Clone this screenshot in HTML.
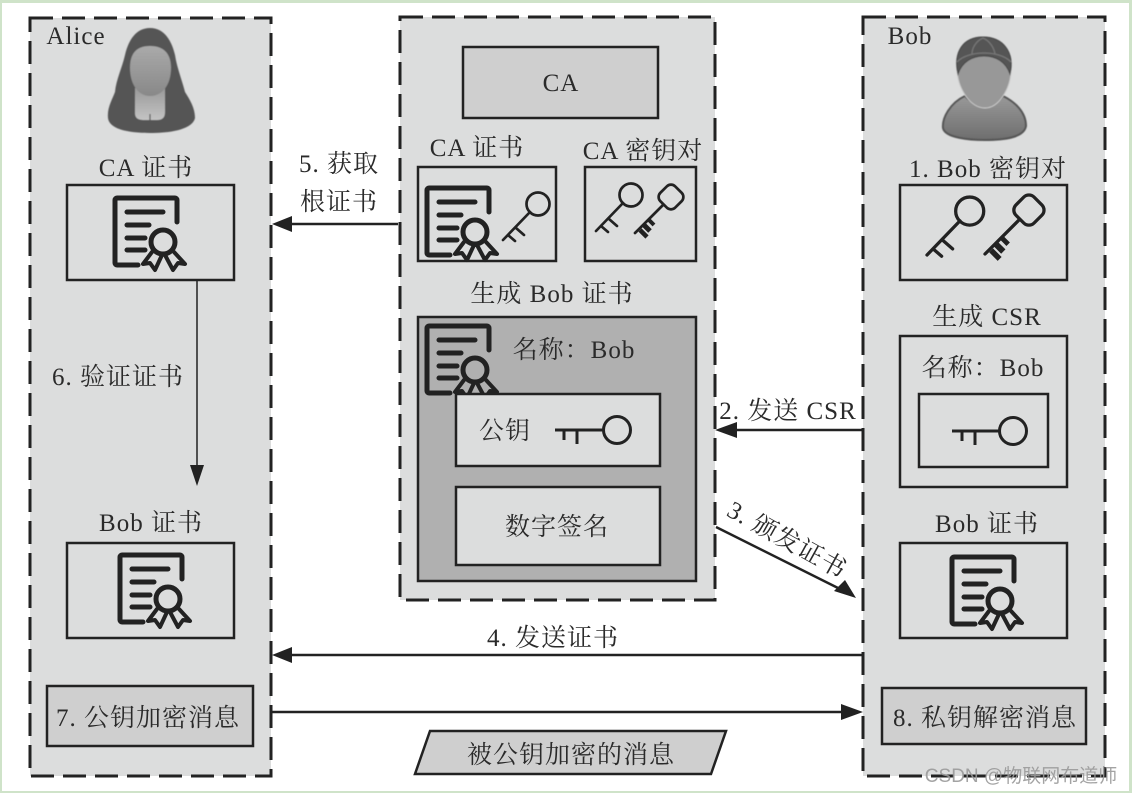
<!DOCTYPE html>
<html lang="zh"><head><meta charset="utf-8">
<style>
html,body{margin:0;padding:0;background:#fff;width:1132px;height:793px;overflow:hidden}
svg{display:block}
text{font-family:"Liberation Serif","Noto Serif CJK SC",serif;fill:#2a2a2a;font-size:25px;letter-spacing:1px;text-anchor:middle}
</style></head>
<body>
<svg width="1132" height="793" viewBox="0 0 1132 793" xmlns="http://www.w3.org/2000/svg">
<defs>
<g id="cert" fill="none" stroke="#222" stroke-linecap="round" stroke-linejoin="round">
  <path d="M63 25V3a2 2 0 0 0-2-2H3a2 2 0 0 0-2 2V66a2 2 0 0 0 2 2H24" stroke-width="5"/>
  <path d="M13 15H49M13 28H35M13 41H31M13 53H31" stroke-width="5"/>
  <circle cx="49" cy="45" r="12" stroke-width="5"/>
  <path d="M38 55L29 67L36 66L41 73L48 58M60 55L71 67L64 66L59 73L51 58" stroke-width="4"/>
</g>
<g id="key1" fill="none" stroke="#222" stroke-width="2.7" stroke-linecap="round">
  <circle cx="35" cy="-36" r="11.5"/>
  <path d="M27 -28L0 0M5 -5L12 1M13 -12L21 -5"/>
</g>
<g id="key2" fill="none" stroke="#222" stroke-width="2.7" stroke-linecap="round" stroke-linejoin="round">
  <rect x="-10.5" y="-10.5" width="21" height="21" rx="6" transform="translate(36,-36) rotate(45)"/>
  <path d="M28 -28L0 0"/>
  <path d="M5 -3L12 4" stroke-width="4.5" stroke-linecap="butt"/>
  <path d="M9 -8L15 -2" stroke-width="5" stroke-linecap="butt"/>
  <path d="M14 -13L19 -8" stroke-width="4" stroke-linecap="butt"/>
</g>
<linearGradient id="face" x1="0" y1="0" x2="0" y2="1"><stop offset="0" stop-color="#aaa"/><stop offset="1" stop-color="#888"/></linearGradient>
<linearGradient id="skin" x1="0" y1="0" x2="0" y2="1"><stop offset="0" stop-color="#999"/><stop offset="1" stop-color="#c4c4c4"/></linearGradient>
<linearGradient id="body" x1="0" y1="0" x2="0" y2="1"><stop offset="0" stop-color="#999"/><stop offset="1" stop-color="#6e6e6e"/></linearGradient>
<filter id="soft"><feGaussianBlur stdDeviation="0.5"/></filter>
</defs>

<rect width="1132" height="793" fill="#cfe3c9"/>
<rect x="2" y="3" width="1127" height="788" fill="#fff"/>

<!-- panels -->
<g fill="#dcdddd" stroke="#222" stroke-width="3" stroke-dasharray="23 9">
  <rect x="30" y="18" width="241" height="758"/>
  <rect x="400" y="17" width="315" height="583"/>
  <rect x="863" y="17" width="242" height="759"/>
</g>

<!-- Alice avatar -->
<g filter="url(#soft)">
  <path d="M150 28C135 28 128 42 125 55C122 68 116 80 115 92C112 100 107 108 108 118C109 128 125 133 150 133C175 133 193 128 195 118C195 108 190 100 185 92C182 80 177 68 175 55C172 42 165 28 150 28Z" fill="#555"/>
  <path d="M135 88V113C135 119 139 120 145 120H157C163 120 165 117 165 112V88Z" fill="url(#skin)"/>
  <path d="M130 68C130 55 135 46 150 46C165 46 171 55 171 68C171 84 163 96 150 96C138 96 130 84 130 68Z" fill="url(#face)"/>
  <path d="M150 114V120" stroke="#555" stroke-width="1.2"/>
</g>
<!-- Bob avatar -->
<g filter="url(#soft)">
  <path d="M965 96C950 103 942 118 943 128C945 138 970 140 985 140C1003 140 1024 138 1026 126C1026 112 1015 102 1003 96C995 108 975 108 965 96Z" fill="url(#body)" stroke="#555" stroke-width="2"/>
  <path d="M957 68C957 54 968 46 983 46C1000 46 1011 56 1011 70C1011 88 999 108 985 108C970 108 957 88 957 68Z" fill="#989898" stroke="#ccc" stroke-width="1"/>
  <path d="M958 74C953 52 963 37 983 37C1003 37 1015 52 1010 74C1006 62 996 56 984 56C972 56 962 62 958 74Z" fill="#555" stroke="#444"/>
  <path d="M972 54C972 48 976 41 983 38C990 41 994 48 995 54M957 62C968 50 1000 50 1011 62" fill="none" stroke="#777" stroke-width="1.3"/>
</g>

<!-- Alice contents -->
<text x="76" y="44">Alice</text>
<text x="146" y="176">CA 证书</text>
<rect x="67" y="185" width="167" height="95" fill="#dcdddd" stroke="#222" stroke-width="2.5"/>
<use href="#cert" x="114" y="197"/>
<line x1="197" y1="281" x2="197" y2="470" stroke="#222" stroke-width="1.5"/>
<path d="M197 486L190 465H204Z" fill="#222"/>
<text x="118" y="385">6. 验证证书</text>
<text x="151" y="531">Bob 证书</text>
<rect x="67" y="543" width="167" height="95" fill="#dcdddd" stroke="#222" stroke-width="2.5"/>
<use href="#cert" x="119" y="554"/>
<rect x="47" y="686" width="206" height="60" fill="#cfcfcf" stroke="#222" stroke-width="2.5"/>
<text x="148" y="726">7. 公钥加密消息</text>

<!-- CA contents -->
<rect x="463" y="47" width="195" height="71" fill="#cfcfcf" stroke="#222" stroke-width="2.5"/>
<text x="561" y="91">CA</text>
<text x="477" y="156">CA 证书</text>
<rect x="418" y="167" width="138" height="94" fill="#dcdddd" stroke="#222" stroke-width="2.5"/>
<use href="#cert" x="426" y="187"/>
<use href="#key1" x="503" y="240"/>
<text x="643" y="159">CA 密钥对</text>
<rect x="585" y="167" width="111" height="94" fill="#dcdddd" stroke="#222" stroke-width="2.5"/>
<use href="#key1" x="596" y="231"/>
<use href="#key2" x="635" y="233"/>
<text x="552" y="302">生成 Bob 证书</text>
<rect x="418" y="317" width="278" height="264" fill="#b0b0b0" stroke="#222" stroke-width="2.5"/>
<use href="#cert" x="426" y="325"/>
<text x="574" y="358">名称：Bob</text>
<rect x="456" y="394" width="204" height="72" fill="#dcdddd" stroke="#222" stroke-width="2.5"/>
<text x="505" y="439">公钥</text>
<g fill="none" stroke="#222" stroke-width="3">
  <circle cx="617" cy="430" r="13.5"/>
  <path d="M603 430H555M564 430V440M577 430V444"/>
</g>
<rect x="456" y="487" width="204" height="78" fill="#dcdddd" stroke="#222" stroke-width="2.5"/>
<text x="557" y="535">数字签名</text>

<!-- Bob contents -->
<text x="910" y="44">Bob</text>
<text x="988" y="177">1. Bob 密钥对</text>
<rect x="900" y="185" width="167" height="95" fill="#dcdddd" stroke="#222" stroke-width="2.5"/>
<g transform="translate(927,255) scale(1.22)"><use href="#key1"/></g>
<g transform="translate(985,254) scale(1.22)"><use href="#key2"/></g>
<text x="987" y="325">生成 CSR</text>
<rect x="900" y="336" width="167" height="151" fill="#dcdddd" stroke="#222" stroke-width="2.5"/>
<text x="983" y="376">名称：Bob</text>
<rect x="919" y="394" width="129" height="73" fill="#dcdddd" stroke="#222" stroke-width="2.5"/>
<g fill="none" stroke="#222" stroke-width="3">
  <circle cx="1013" cy="431" r="13.5"/>
  <path d="M999 431H952M962 431V441M975 431V445"/>
</g>
<text x="987" y="532">Bob 证书</text>
<rect x="900" y="543" width="167" height="95" fill="#dcdddd" stroke="#222" stroke-width="2.5"/>
<use href="#cert" x="951" y="556"/>
<rect x="882" y="688" width="204" height="56" fill="#cfcfcf" stroke="#222" stroke-width="2.5"/>
<text x="985" y="726">8. 私钥解密消息</text>

<!-- arrows -->
<g stroke="#222" stroke-width="2.5" fill="none">
  <line x1="290" y1="224" x2="398" y2="224"/>
  <line x1="735" y1="430" x2="862" y2="430"/>
  <line x1="716" y1="527" x2="840" y2="589"/>
  <line x1="290" y1="655" x2="862" y2="655"/>
  <line x1="272" y1="712" x2="845" y2="712"/>
</g>
<g fill="#222">
  <path d="M272 224L292 216V232Z"/>
  <path d="M715 430L737 422V438Z"/>
  <path d="M856 598L834 591L845 580Z"/>
  <path d="M272 655L292 647V663Z"/>
  <path d="M863 712L841 704V720Z"/>
</g>
<text x="339" y="172">5. 获取</text>
<text x="339" y="210">根证书</text>
<text x="788" y="419">2. 发送 CSR</text>
<text transform="translate(787,540) rotate(29)" x="0" y="8">3. 颁发证书</text>
<text x="553" y="646">4. 发送证书</text>

<path d="M430 731H726L711 774H415Z" fill="#cfcfcf" stroke="#222" stroke-width="2.5"/>
<text x="571" y="763">被公钥加密的消息</text>

<!-- watermark -->
<text x="1021" y="782" style="font-family:'Liberation Sans','Noto Sans CJK SC',sans-serif;font-size:19px;letter-spacing:0;fill:#999;fill-opacity:.9">CSDN @物联网布道师</text>
</svg>
</body></html>
